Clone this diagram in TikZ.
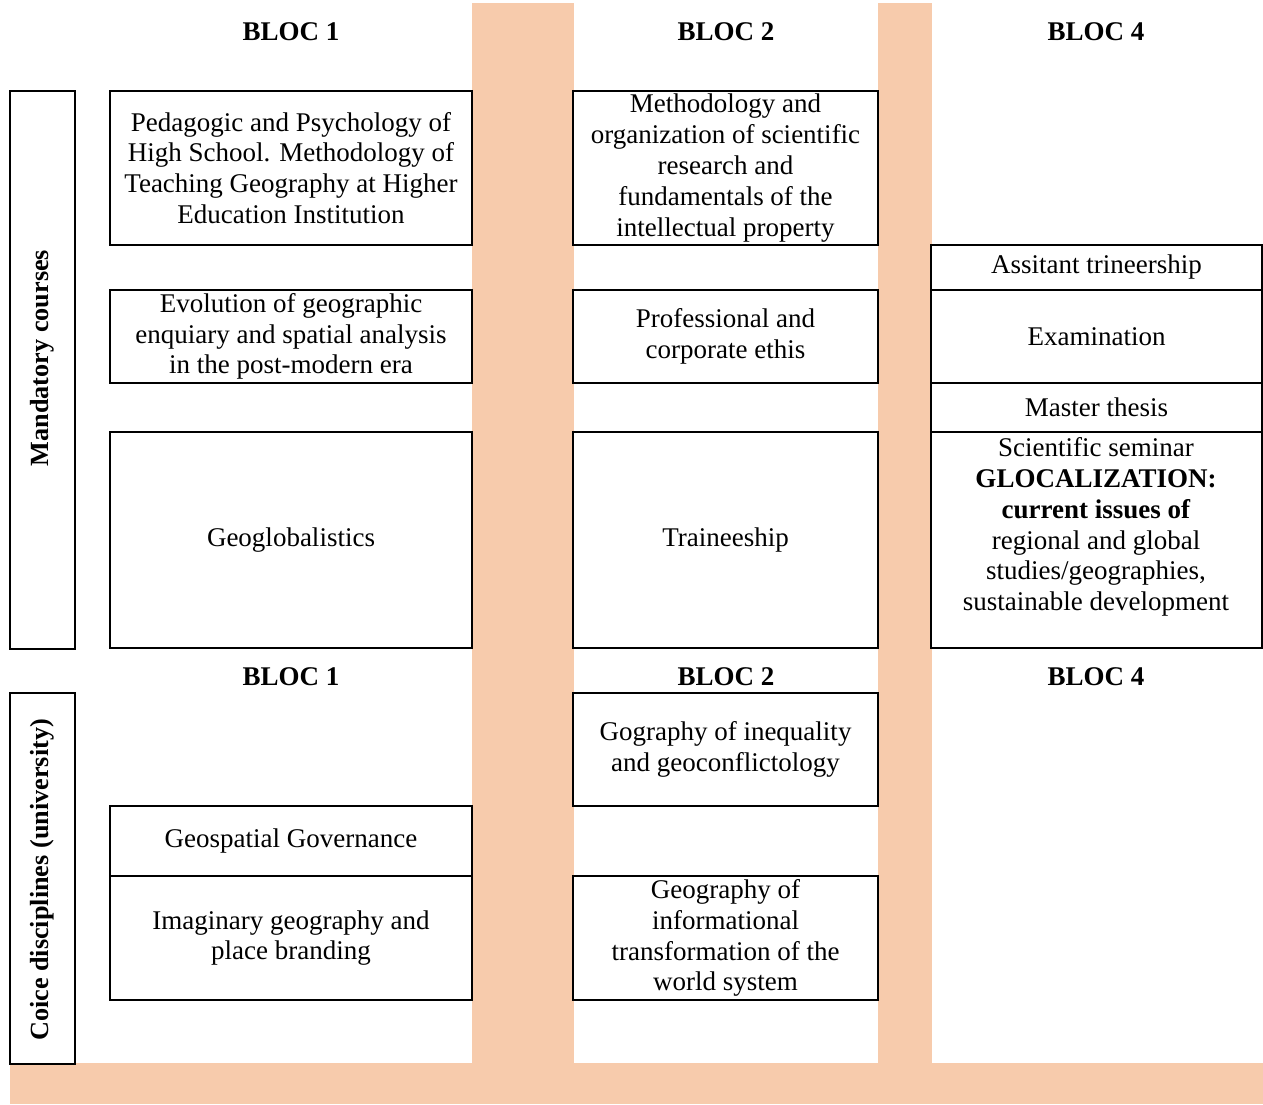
\documentclass[tikz,border=0pt]{standalone}
\usepackage{fontspec}
\setmainfont{Liberation Serif}
\definecolor{barcol}{HTML}{F7CBAC}
\tikzset{
  box/.style={draw, line width=1pt, inner sep=0pt, align=center,
    font=\fontsize{13.5}{15.4}\selectfont},
  plain/.style={inner sep=0pt, align=center, font=\fontsize{13.5}{15.4}\selectfont},
  hdr/.style={inner sep=0pt, font=\fontsize{13.5}{15}\selectfont\bfseries},
  side/.style={inner sep=0pt, rotate=90, font=\fontsize{13.1}{15}\selectfont\bfseries},
  bandfill/.style={fill=barcol, draw=none}
}
% box from (x1,y1) to (x2,y2) in pixel units
\newcommand\cbox[6]{%
  \pgfmathsetmacro\cbw{(#4-#2)*0.5}%
  \pgfmathsetmacro\cbh{(#5-#3)*0.5}%
  \pgfmathsetmacro\cbx{(#2+#4)/2}%
  \pgfmathsetmacro\cby{(#3+#5)/2}%
  \node[box, minimum width=\cbw pt, minimum height=\cbh pt] (#1) at (\cbx,\cby) {#6};}
\begin{document}
\begin{tikzpicture}[x=0.5pt,y=-0.5pt]
\useasboundingbox (0,0) rectangle (1263,1104);
% orange bands
\fill[bandfill] (472,3) rectangle (574,1063);
\fill[bandfill] (878,3) rectangle (932,1063);
\fill[bandfill] (10,1063) rectangle (1263,1104);

% headers
\node[hdr] (h11) at (291,32) {BLOC 1};
\node[hdr] (h12) at (726,32) {BLOC 2};
\node[hdr] (h14) at (1096,32) {BLOC 4};
\node[hdr] (h21) at (291,677) {BLOC 1};
\node[hdr] (h22) at (726,677) {BLOC 2};
\node[hdr] (h24) at (1096,677) {BLOC 4};

% side labels
\cbox{mand}{10}{91}{75}{649}{}
\node[side] (mandt) at (42,358) {Mandatory courses};
\cbox{coice}{10}{693}{75}{1064}{}
\node[side] (coicet) at (42,880) {Coice disciplines (university)};

% column 1
\cbox{ped}{110}{91}{472}{245}{Pedagogic and Psychology of\\High School. Methodology of\\Teaching Geography at Higher\\Education Institution}
\cbox{evo}{110}{290}{472}{383}{Evolution of geographic\\enquiary and spatial analysis\\in the post-modern era}
\cbox{geog}{110}{432}{472}{648}{Geoglobalistics}
\cbox{gsg}{110}{806}{472}{876}{Geospatial Governance}
\cbox{imag}{110}{876}{472}{1000}{Imaginary geography and\\place branding}

% column 2
\cbox{meth}{573}{91}{878}{245}{Methodology and\\organization of scientific\\research and\\fundamentals of the\\intellectual property}
\cbox{prof}{573}{290}{878}{383}{Professional and\\corporate ethis}
\cbox{train}{573}{432}{878}{648}{Traineeship}
\cbox{ineq}{573}{693}{878}{806}{Gography of inequality\\and geoconflictology}
\cbox{info}{573}{876}{878}{1000}{Geography of\\informational\\transformation of the\\world system}

% column 3
\cbox{assist}{931}{245}{1262}{290}{Assitant trineership}
\cbox{exam}{931}{290}{1262}{383}{Examination}
\cbox{thesis}{931}{383}{1262}{432}{Master thesis}
\cbox{sem}{931}{432}{1262}{648}{}
\node[plain] (semt) at (1096,527) {Scientific seminar\\\textbf{GLOCALIZATION:}\\\textbf{current issues of}\\regional and global\\studies/geographies,\\sustainable development};
\end{tikzpicture}
\end{document}
